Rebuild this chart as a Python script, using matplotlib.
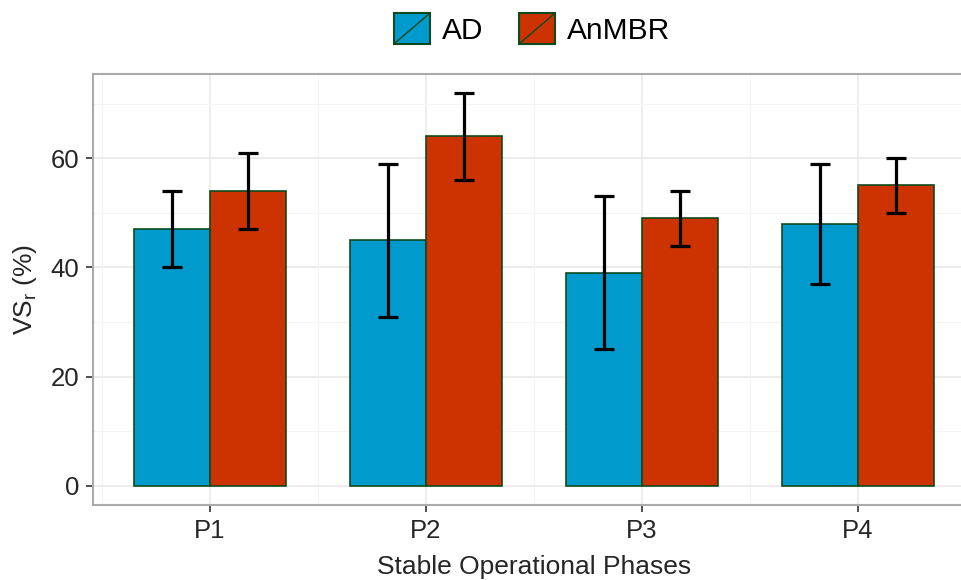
import matplotlib.pyplot as plt
from matplotlib.patches import Rectangle, Patch
from matplotlib.lines import Line2D
from matplotlib.legend_handler import HandlerBase
import numpy as np

plt.rcParams['font.family'] = ['Liberation Sans', 'DejaVu Sans']
plt.rcParams['mathtext.fontset'] = 'custom'
plt.rcParams['mathtext.rm'] = 'Liberation Sans'

# datos
phases = ['P1', 'P2', 'P3', 'P4']
ad_mean = [47, 45, 39, 48]
ad_err = [7, 14, 14, 11]
anmbr_mean = [54, 64, 49, 55]
anmbr_err = [7, 8, 5, 5]

col_ad = '#009ACD'
col_anmbr = '#CC3300'
col_edge = '#0E4A1E'
col_txt = '#262626'


# clave de leyenda con diagonal, como en ggplot
class SlashKey(HandlerBase):
    def create_artists(self, legend, orig_handle, xd, yd, w, h, fontsize, trans):
        r = Rectangle((-xd, -yd), w, h, facecolor=orig_handle.get_facecolor(),
                      edgecolor=col_edge, linewidth=1.5, transform=trans)
        l = Line2D([-xd, -xd + w], [-yd, -yd + h], color=col_edge,
                   linewidth=1.0, transform=trans)
        return [r, l]


fig = plt.figure(figsize=(9.61, 5.8), dpi=100)
ax = fig.add_axes([93 / 961, 75 / 580, 882 / 961, 431 / 580])

x = np.arange(len(phases))
w = 0.35
ax.bar(x - w / 2, ad_mean, w, color=col_ad, edgecolor=col_edge, linewidth=1.2, zorder=2)
ax.bar(x + w / 2, anmbr_mean, w, color=col_anmbr, edgecolor=col_edge, linewidth=1.2, zorder=2)
ax.errorbar(x - w / 2, ad_mean, yerr=ad_err, fmt='none', ecolor='black',
            elinewidth=2.3, capsize=7.5, capthick=2.3, zorder=3)
ax.errorbar(x + w / 2, anmbr_mean, yerr=anmbr_err, fmt='none', ecolor='black',
            elinewidth=2.3, capsize=7.5, capthick=2.3, zorder=3)

ax.set_xlim(-0.542, 3.542)
ax.set_ylim(-3.48, 75.4)
ax.set_xticks(x)
ax.set_xticklabels(phases)
ax.set_yticks([0, 20, 40, 60])
ax.set_xticks(np.arange(-0.5, 4, 1), minor=True)
ax.set_yticks([10, 30, 50, 70], minor=True)

ax.grid(which='major', color='#EBEBEB', linewidth=1.3, zorder=0)
ax.grid(which='minor', color='#F4F4F4', linewidth=0.8, zorder=0)
ax.set_axisbelow(True)

ax.tick_params(which='major', length=5, width=1.2, color='#333333',
               labelsize=18.5, labelcolor=col_txt, pad=5)
ax.tick_params(which='minor', length=0)
for s in ax.spines.values():
    s.set_color('#AAAAAA')
    s.set_linewidth(1.5)

ax.set_xlabel('Stable Operational Phases', fontsize=19, color=col_txt, labelpad=9)
ax.set_ylabel('VS$_\\mathrm{r}$ (%)', fontsize=19, color=col_txt, labelpad=8)

handles = [Patch(facecolor=col_ad), Patch(facecolor=col_anmbr)]
fig.legend(handles, ['AD', 'AnMBR'], loc='center', bbox_to_anchor=(532 / 961, 1 - 29 / 580),
           ncol=2, frameon=False, fontsize=21.5, handler_map={Patch: SlashKey()},
           handlelength=1.2, handleheight=1.2, handletextpad=0.4, columnspacing=1.2,
           labelcolor='black')

fig.savefig('out.png', dpi=100)
